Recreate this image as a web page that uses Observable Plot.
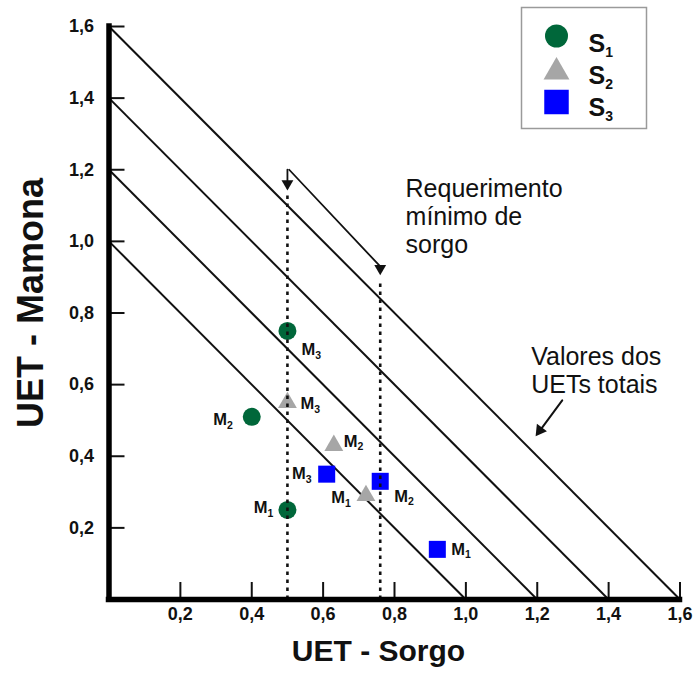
<!DOCTYPE html>
<html>
<head>
<meta charset="utf-8">
<script src="https://cdn.jsdelivr.net/npm/d3@7"></script>
<script src="https://cdn.jsdelivr.net/npm/@observablehq/plot@0.6"></script>
<style>
  html, body { margin: 0; padding: 0; background: #fff; }
  #chart svg { display: block; }
</style>
</head>
<body>
<div id="chart"></div>
<script>
// UET (uso eficiente da terra) of sorghum vs castor bean, per system and method
const methods = ["M1", "M2", "M3"];
const s1Sorgo  = [0.50, 0.40, 0.50];
const s1Mamona = [0.25, 0.51, 0.75];
const s2Sorgo  = [0.72, 0.63, 0.50];
const s2Mamona = [0.29, 0.43, 0.55];
const s3Sorgo  = [0.92, 0.76, 0.61];
const s3Mamona = [0.14, 0.33, 0.35];

// total UET iso-lines (x + y = total)
const totals = [1.0, 1.2, 1.4, 1.6];
// minimum sorghum requirement lines
const minSorgo = [0.50, 0.76];
const minSorgoTop = [1.13, 0.885];

const xTicks = [0.2, 0.4, 0.6, 0.8, 1.0, 1.2, 1.4, 1.6];
const yTicks = [0.2, 0.4, 0.6, 0.8, 1.0, 1.2, 1.4, 1.6];

const colors = {S1: "#00673a", S2: "#a6a6a6", S3: "#0000ff"};
const font = "Liberation Sans, Arial, Helvetica, sans-serif";

const points = [];
[["S1", s1Sorgo, s1Mamona], ["S2", s2Sorgo, s2Mamona], ["S3", s3Sorgo, s3Mamona]]
  .forEach(([s, xs, ys]) => methods.forEach((m, i) =>
    points.push({series: s, method: m, sorgo: xs[i], mamona: ys[i]})));

// where each method label sits relative to its marker
const labelPlacement = {
  "S1 M1": {dx: -14, dy: -2, anchor: "end"},
  "S1 M2": {dx: -19, dy: 3, anchor: "end"},
  "S1 M3": {dx: 14, dy: 19, anchor: "start"},
  "S2 M1": {dx: -15, dy: 2, anchor: "end"},
  "S2 M2": {dx: 10, dy: -4, anchor: "start"},
  "S2 M3": {dx: 13, dy: 1, anchor: "start"},
  "S3 M1": {dx: 14, dy: 0, anchor: "start"},
  "S3 M2": {dx: 14, dy: 15, anchor: "start"},
  "S3 M3": {dx: -15, dy: 0, anchor: "end"}
};

const W = 698, H = 675;
const margin = {top: 26, right: 18.5, bottom: 76, left: 108.5};
const frameW = W - margin.left - margin.right;
const frameH = H - margin.top - margin.bottom;
const fmt = d => d.toFixed(1).replace(".", ",");

// annotation arrows
const reqArrowDown = [{x: 0.5, y: 1.2}, {x: 0.5, y: 1.15}];
const reqArrowDiag = [{x: 0.505, y: 1.2}, {x: 0.76, y: 0.93}];
const totArrow = [{x: 1.27, y: 0.556}, {x: 1.21, y: 0.475}];

const sizes = {S1: 9, S2: 7, S3: 9.6};
const dotMarks = ["S1", "S2", "S3"].map(s => Plot.dot(points.filter(p => p.series === s), {
  x: "sorgo", y: "mamona",
  symbol: s === "S1" ? "circle" : s === "S2" ? "triangle" : "square",
  r: sizes[s], fill: colors[s]
}));

const labelMarks = points.map(p => {
  const pl = labelPlacement[p.series + " " + p.method];
  return Plot.text([p], {
    x: "sorgo", y: "mamona", text: "method",
    dx: pl.dx, dy: pl.dy, textAnchor: pl.anchor,
    fontSize: 16.5, fontWeight: "bold", fill: "#111"
  });
});

const chart = Plot.plot({
  width: W, height: H,
  marginTop: margin.top, marginRight: margin.right,
  marginBottom: margin.bottom, marginLeft: margin.left,
  style: {fontFamily: font, background: "#fff", color: "#111"},
  x: {domain: [0, 1.6], axis: null},
  y: {domain: [0, 1.6], axis: null},
  marks: [
    // iso-lines of total UET
    Plot.link(totals, {x1: () => 0, y1: d => d, x2: d => d, y2: () => 0, stroke: "#111", strokeWidth: 2}),
    ...dotMarks,
    // minimum sorghum requirement
    Plot.ruleX(minSorgo, {x: d => d, y1: () => 0, y2: (d, i) => minSorgoTop[i],
      stroke: "#111", strokeWidth: 2.6, strokeDasharray: "3.5,4.5"}),
    ...labelMarks,
    // arrows
    Plot.line(reqArrowDown, {x: "x", y: "y", stroke: "#111", strokeWidth: 1.8}),
    Plot.line(reqArrowDiag, {x: "x", y: "y", stroke: "#111", strokeWidth: 1.8}),
    Plot.line(totArrow, {x: "x", y: "y", stroke: "#111", strokeWidth: 2}),
    Plot.dot([reqArrowDown[1]], {x: "x", y: "y", symbol: "triangle", r: 4.4, fill: "#111", rotate: 180, dy: -4}),
    Plot.dot([reqArrowDiag[1]], {x: "x", y: "y", symbol: "triangle", r: 4.4, fill: "#111", rotate: 180, dy: 2}),
    Plot.dot([totArrow[1]], {x: "x", y: "y", symbol: "triangle", r: 4.6, fill: "#111", rotate: 216, dx: -1, dy: 1}),
    // annotations
    Plot.text(["Requerimento\nmínimo de\nsorgo"], {x: () => 0.831, y: () => 1.179, text: d => d,
      textAnchor: "start", lineAnchor: "top", lineHeight: 1.12, fontSize: 25, fill: "#111"}),
    Plot.text(["Valores dos\nUETs totais"], {x: () => 1.183, y: () => 0.709, text: d => d,
      textAnchor: "start", lineAnchor: "top", lineHeight: 1.12, fontSize: 25, fill: "#111"}),
    // axes
    Plot.tickX(xTicks, {x: d => d, insetTop: frameH - 17, stroke: "#111", strokeWidth: 2}),
    Plot.tickY(yTicks, {y: d => d, insetRight: frameW - 16, stroke: "#111", strokeWidth: 2}),
    Plot.ruleX([0], {stroke: "#000", strokeWidth: 5.5, strokeLinecap: "square"}),
    Plot.ruleY([0], {stroke: "#000", strokeWidth: 5.5, strokeLinecap: "square"}),
    Plot.text(xTicks, {x: d => d, frameAnchor: "bottom", text: fmt, lineAnchor: "top", dy: 8,
      fontSize: 18, fontWeight: "bold", fill: "#111"}),
    Plot.text(yTicks, {y: d => d, frameAnchor: "left", text: fmt, textAnchor: "end", dx: -15,
      fontSize: 18, fontWeight: "bold", fill: "#111"}),
    Plot.text(["UET - Sorgo"], {frameAnchor: "bottom", text: d => d, lineAnchor: "top", dx: -16, dy: 40,
      fontSize: 30, fontWeight: "bold", fill: "#111"}),
    Plot.text(["UET - Mamona"], {frameAnchor: "left", text: d => d, rotate: -90, textAnchor: "middle",
      dx: -78, dy: -10, fontSize: 36, fontWeight: "bold", fill: "#111"})
  ]
});

// subscripts on method labels (M1 -> M with a lowered 1)
d3.select(chart).selectAll("text").filter(function () {
  return /^M[123]$/.test(this.textContent);
}).each(function () {
  const t = this.textContent;
  this.textContent = t[0];
  d3.select(this).append("tspan").attr("font-size", 10.5).attr("dy", "0.35em").text(t.slice(1));
});

// series legend
const legendItems = [
  {key: "S1", sym: d3.symbolCircle, size: Math.PI * 11.5 * 11.5, cy: 36, base: 51.5},
  {key: "S2", sym: d3.symbolTriangle, size: 290, cy: 72, base: 84},
  {key: "S3", sym: d3.symbolSquare, size: 600, cy: 102, base: 115.5}
];
const lg = d3.select(chart).append("g").attr("font-family", font).attr("text-anchor", "start");
lg.append("rect").attr("x", 521.5).attr("y", 7.5).attr("width", 125).attr("height", 121)
  .attr("fill", "#fff").attr("stroke", "#9a9a9a").attr("stroke-width", 1.5);
legendItems.forEach(it => {
  lg.append("path").attr("d", d3.symbol(it.sym, it.size)())
    .attr("transform", `translate(556.5,${it.cy})`).attr("fill", colors[it.key]);
  const t = lg.append("text").attr("x", 588.5).attr("y", it.base)
    .attr("font-size", 25).attr("font-weight", "bold").attr("fill", "#111").text(it.key[0]);
  t.append("tspan").attr("font-size", 14).attr("dy", 5).text(it.key.slice(1));
});

document.getElementById("chart").appendChild(chart);
</script>
</body>
</html>
